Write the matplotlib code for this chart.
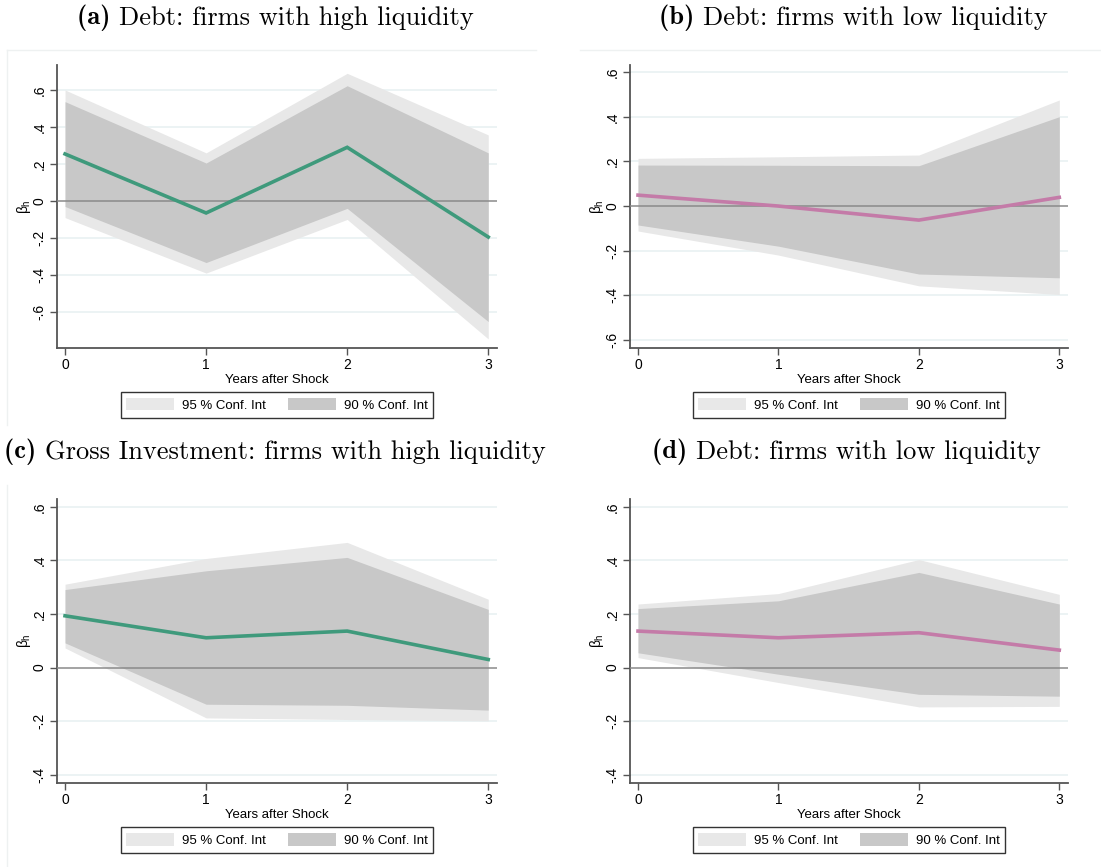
import matplotlib
matplotlib.use("Agg")
import matplotlib.pyplot as plt
from matplotlib.patches import Patch
from matplotlib.lines import Line2D

# Horizons (years after the shock)
years = [0, 1, 2, 3]

# (a) Debt: firms with high liquidity
a_beta = [0.254, -0.065, 0.290, -0.195]
a_lo90 = [-0.030, -0.333, -0.040, -0.652]
a_hi90 = [0.537, 0.205, 0.623, 0.260]
a_lo95 = [-0.090, -0.390, -0.100, -0.746]
a_hi95 = [0.600, 0.260, 0.690, 0.357]

# (b) Debt: firms with low liquidity
b_beta = [0.049, 0.000, -0.063, 0.039]
b_lo90 = [-0.085, -0.180, -0.305, -0.322]
b_hi90 = [0.184, 0.183, 0.181, 0.401]
b_lo95 = [-0.112, -0.220, -0.358, -0.397]
b_hi95 = [0.214, 0.221, 0.229, 0.476]

# (c) Gross Investment: firms with high liquidity
c_beta = [0.193, 0.111, 0.136, 0.030]
c_lo90 = [0.092, -0.137, -0.141, -0.159]
c_hi90 = [0.291, 0.361, 0.411, 0.217]
c_lo95 = [0.073, -0.188, -0.194, -0.199]
c_hi95 = [0.311, 0.407, 0.467, 0.255]

# (d) Debt: firms with low liquidity
d_beta = [0.136, 0.111, 0.130, 0.065]
d_lo90 = [0.055, -0.025, -0.100, -0.107]
d_hi90 = [0.220, 0.249, 0.355, 0.237]
d_lo95 = [0.037, -0.056, -0.147, -0.145]
d_hi95 = [0.237, 0.276, 0.403, 0.273]

titles_bold = ["(a)", "(b)", "(c)", "(d)"]
titles_text = ["Debt: firms with high liquidity",
               "Debt: firms with low liquidity",
               "Gross Investment: firms with high liquidity",
               "Debt: firms with low liquidity"]

yticks_top = [-0.6, -0.4, -0.2, 0, 0.2, 0.4, 0.6]
yticks_bot = [-0.4, -0.2, 0, 0.2, 0.4, 0.6]

GREEN = "#3f9a7c"
PINK = "#c47ba8"
C95 = "#e8e8e8"
C90 = "#c8c8c8"
AXC = "#555555"
GRID = "#e9f1f2"

W, H = 1101, 867
plt.rcParams["font.family"] = ["Liberation Sans", "DejaVu Sans"]
plt.rcParams["mathtext.fontset"] = "custom"
plt.rcParams["mathtext.rm"] = "Liberation Sans"
plt.rcParams["mathtext.it"] = "Liberation Sans"

fig = plt.figure(figsize=(W / 100, H / 100), dpi=100)
fig.patch.set_facecolor("white")


def px_axes(left, right, top, bottom):
    return fig.add_axes([left / W, 1 - bottom / H, (right - left) / W, (bottom - top) / H])


def fmt(v):
    if abs(v) < 1e-9:
        return "0"
    return f"{v:.1f}".replace("0.", ".")


panels = [
    (a_beta, a_lo90, a_hi90, a_lo95, a_hi95, GREEN, (-0.795, 0.735), yticks_top, (57, 497, 65, 348)),
    (b_beta, b_lo90, b_hi90, b_lo95, b_hi95, PINK, (-0.637, 0.633), yticks_top, (630, 1068, 65, 348)),
    (c_beta, c_lo90, c_hi90, c_lo95, c_hi95, GREEN, (-0.431, 0.629), yticks_bot, (57, 497, 499, 783)),
    (d_beta, d_lo90, d_hi90, d_lo95, d_hi95, PINK, (-0.431, 0.629), yticks_bot, (630, 1068, 499, 783)),
]

title_pos = [(275, 18), (853, 18), (275, 452), (846, 452)]

for i, (beta, lo90, hi90, lo95, hi95, col, ylim, yt, box) in enumerate(panels):
    ax = px_axes(*box)
    ax.set_xlim(-0.057, 3.062)
    ax.set_ylim(*ylim)
    for y in yt:
        if y != 0:
            ax.axhline(y, color=GRID, lw=1.2, zorder=0)
    ax.fill_between(years, lo95, hi95, color=C95, lw=0, zorder=1)
    ax.fill_between(years, lo90, hi90, color=C90, lw=0, zorder=2)
    ax.axhline(0, color="#8a8a8a", lw=1.1, zorder=3)
    ax.plot(years, beta, color=col, lw=2.6, zorder=4, solid_joinstyle="miter")

    for s in ["top", "right"]:
        ax.spines[s].set_visible(False)
    for s in ["left", "bottom"]:
        ax.spines[s].set_color(AXC)
        ax.spines[s].set_linewidth(1.3)
    ax.set_xticks(years)
    ax.set_xticklabels([str(x) for x in years])
    ax.set_yticks(yt)
    ax.set_yticklabels([fmt(v) for v in yt], rotation=90, va="center")
    ax.tick_params(axis="both", colors=AXC, length=5, width=1.0, labelsize=10,
                   labelcolor="black", pad=2.5)
    ax.set_xlabel("Years after Shock", fontsize=9.5, labelpad=1)
    ax.set_ylabel(r"$\beta_h$", fontsize=10, labelpad=0, rotation=90)

    handles = [Patch(facecolor=C95, edgecolor="none", label="95 % Conf. Int"),
               Patch(facecolor=C90, edgecolor="none", label="90 % Conf. Int")]
    leg = ax.legend(handles=handles, loc="upper center", bbox_to_anchor=(0.5, -0.155),
                    ncol=2, frameon=True, fancybox=False, fontsize=9.5,
                    handlelength=3.6, handleheight=1.1, handletextpad=0.6,
                    columnspacing=1.7, borderpad=0.45, borderaxespad=0)
    leg.get_frame().set_edgecolor("black")
    leg.get_frame().set_linewidth(1.0)

    tx, ty = title_pos[i]
    # bold label followed by regular title text, centered as one line
    t1 = fig.text(0, 0, titles_bold[i] + " ", family="cmb10", fontsize=19)
    t2 = fig.text(0, 0, titles_text[i], family="cmr10", fontsize=19)
    fig.canvas.draw()
    r = fig.canvas.get_renderer()
    w1 = t1.get_window_extent(r).width
    w2 = t2.get_window_extent(r).width
    x0 = tx - (w1 + w2) / 2
    t1.set_position((x0 / W, 1 - ty / H))
    t1.set_va("center")
    t2.set_position(((x0 + w1) / W, 1 - ty / H))
    t2.set_va("center")

# faint graph-region outlines
fr = "#eef1f1"
fig.add_artist(Line2D([7 / W, 536 / W], [1 - 50 / H, 1 - 50 / H], color=fr, lw=1))
fig.add_artist(Line2D([7 / W, 7 / W], [1 - 50 / H, 1 - 425 / H], color=fr, lw=1))
fig.add_artist(Line2D([580 / W, 1101 / W], [1 - 50 / H, 1 - 50 / H], color=fr, lw=1))
fig.add_artist(Line2D([7 / W, 7 / W], [1 - 485 / H, 1 - 867 / H], color=fr, lw=1))

fig.savefig("out.png", dpi=100, facecolor="white")
